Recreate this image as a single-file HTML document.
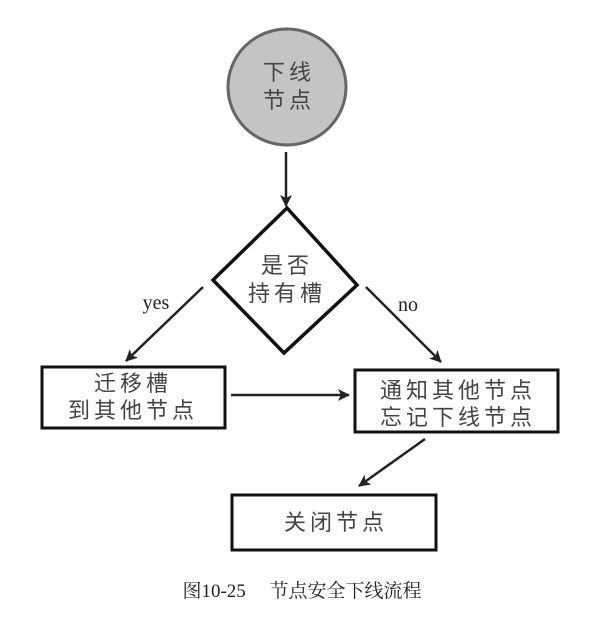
<!DOCTYPE html>
<html><head><meta charset="utf-8"><style>
html,body{margin:0;padding:0;background:#fff;}
svg{display:block}
.t{font-family:"Liberation Sans","Noto Sans CJK SC",sans-serif;fill:#444;font-size:22px;text-anchor:middle;letter-spacing:4px}
.l{font-family:"Liberation Serif","Noto Serif CJK SC",serif;fill:#222;font-size:20px;text-anchor:middle}
</style></head><body>
<svg width="610" height="624" viewBox="0 0 610 624" xmlns="http://www.w3.org/2000/svg">
<defs><marker id="a" markerWidth="12" markerHeight="12" refX="11" refY="6" orient="auto" markerUnits="userSpaceOnUse"><path d="M0,0 L12,6 L0,12 L3,6 Z" fill="#222"/></marker></defs>
<ellipse cx="287" cy="87" rx="59" ry="58" fill="#c4c4c4" stroke="#666" stroke-width="3"/>
<text class="t" x="289" y="80">下线</text>
<text class="t" x="289" y="108">节点</text>
<line x1="286" y1="152" x2="286" y2="206" stroke="#222" stroke-width="2.5" marker-end="url(#a)"/>
<path d="M287,208 L357,285 L284,353 L213,280 Z" fill="none" stroke="#111" stroke-width="3.5"/>
<text class="t" x="287" y="273">是否</text>
<text class="t" x="287" y="301">持有槽</text>
<text class="l" x="156" y="309">yes</text>
<text class="l" x="408" y="311">no</text>
<line x1="203" y1="287" x2="126" y2="361" stroke="#222" stroke-width="2.5" marker-end="url(#a)"/>
<line x1="366" y1="287" x2="441" y2="362" stroke="#222" stroke-width="2.5" marker-end="url(#a)"/>
<rect x="42" y="367" width="183" height="61" fill="none" stroke="#111" stroke-width="3"/>
<text class="t" x="133" y="391">迁移槽</text>
<text class="t" x="133" y="418">到其他节点</text>
<line x1="231" y1="395" x2="349" y2="395" stroke="#222" stroke-width="2.5" marker-end="url(#a)"/>
<rect x="355" y="370" width="203" height="62" fill="none" stroke="#111" stroke-width="3"/>
<text class="t" x="458" y="398">通知其他节点</text>
<text class="t" x="458" y="425">忘记下线节点</text>
<line x1="425" y1="439" x2="359" y2="486" stroke="#222" stroke-width="2.5" marker-end="url(#a)"/>
<rect x="232" y="495" width="204" height="55" fill="none" stroke="#111" stroke-width="3"/>
<text class="t" x="336" y="530">关闭节点</text>
<text class="l" x="302" y="597" style="font-size:19px">图10-25　 节点安全下线流程</text>
</svg>
</body></html>
